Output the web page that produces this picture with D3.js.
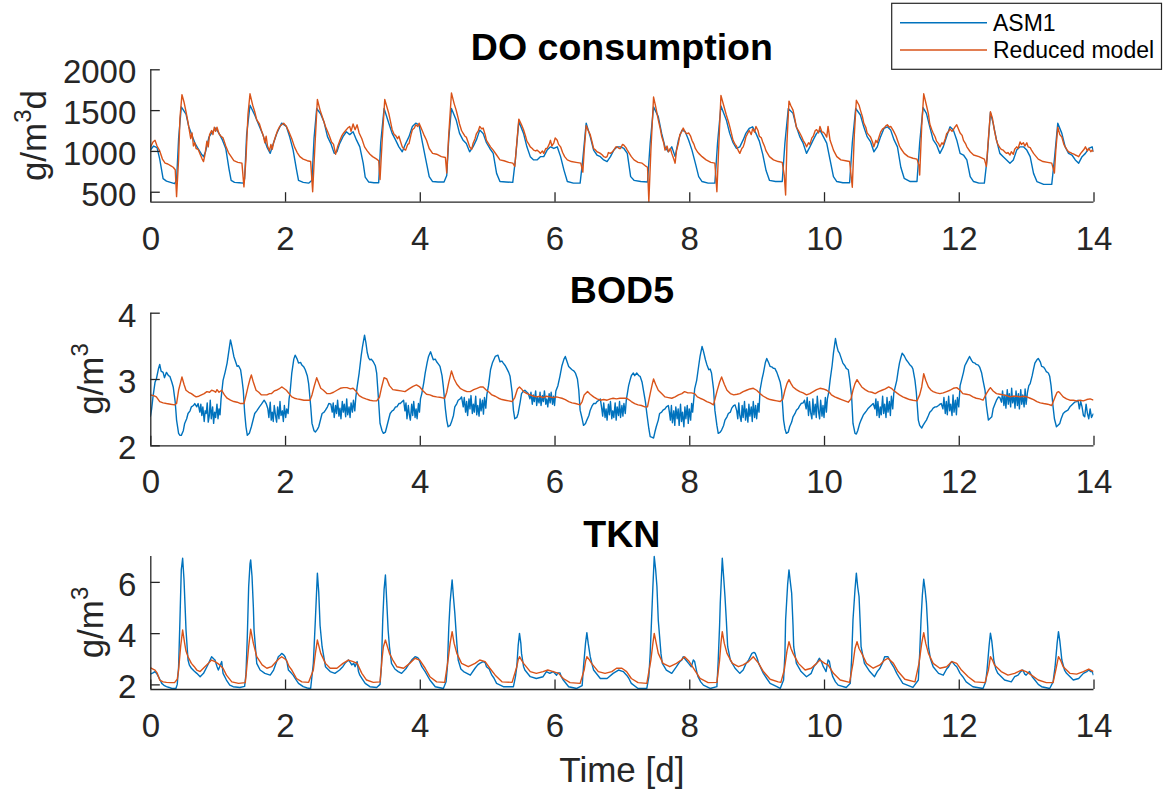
<!DOCTYPE html>
<html>
<head>
<meta charset="utf-8">
<script src="https://cdn.jsdelivr.net/npm/d3@7"></script>
<style>
html,body{margin:0;padding:0;background:#fff;}
svg{display:block;font-family:"Liberation Sans",Arial,Helvetica,sans-serif;}
</style>
</head>
<body>
<svg id="chart" width="1164" height="793"></svg>
<script>
// ---------------- DATA ----------------
const xTicks = [0, 2, 4, 6, 8, 10, 12, 14];
const doTicks = [500, 1000, 1500, 2000];
const bodTicks = [2, 3, 4];
const tknTicks = [2, 4, 6];
const seriesNames = ["ASM1", "Reduced model"];
const panelTitles = ["DO consumption", "BOD5", "TKN"];

const doAsm1 = [[0,1012],[0.05,1060],[0.10,1040],[0.14,900],[0.19,660],[0.24,630],[0.30,615],[0.36,600],[0.39,640],[0.42,1150],[0.46,1540],[0.53,1450],[0.57,1300],[0.61,1210],[0.66,1100],[0.70,1040],[0.73,1000],[0.76,960],[0.79,930],[0.82,990],[0.87,1170],[0.92,1230],[0.97,1280],
[1.02,1215],[1.07,1135],[1.12,1030],[1.17,770],[1.20,640],[1.25,615],[1.32,610],[1.38,605],[1.40,660],[1.43,1200],[1.48,1560],[1.55,1440],[1.62,1300],[1.67,1200],[1.73,1050],[1.78,970],[1.83,1100],[1.88,1220],[1.95,1340],
[2.02,1300],[2.07,1170],[2.12,1010],[2.17,770],[2.20,640],[2.27,615],[2.35,605],[2.40,640],[2.43,1150],[2.47,1520],[2.53,1450],[2.58,1350],[2.63,1175],[2.68,1090],[2.73,970],[2.77,990],[2.81,1090],[2.86,1175],[2.91,1235],[2.96,1200],
[3.01,1235],[3.06,1135],[3.11,1050],[3.16,850],[3.19,680],[3.24,620],[3.32,610],[3.39,610],[3.42,1100],[3.47,1520],[3.54,1340],[3.59,1215],[3.64,1135],[3.69,1050],[3.74,990],[3.79,1090],[3.84,1175],[3.89,1300],[3.94,1340],[3.99,1320],
[4.04,1100],[4.09,890],[4.14,685],[4.19,625],[4.27,620],[4.36,620],[4.40,700],[4.43,1150],[4.47,1520],[4.54,1380],[4.59,1215],[4.64,1135],[4.69,1090],[4.74,990],[4.79,1050],[4.84,1135],[4.89,1255],[4.94,1215],[4.99,1100],
[5.04,1030],[5.09,970],[5.14,725],[5.19,625],[5.28,620],[5.38,615],[5.42,900],[5.47,1360],[5.54,1215],[5.59,1050],[5.64,930],[5.69,890],[5.74,890],[5.79,930],[5.84,930],[5.89,1010],[5.94,1050],[5.99,1030],
[6.04,1050],[6.09,930],[6.14,765],[6.19,625],[6.28,605],[6.38,605],[6.42,900],[6.47,1340],[6.53,1175],[6.58,1010],[6.63,950],[6.68,930],[6.73,890],[6.78,870],[6.83,930],[6.88,1010],[6.93,1050],[6.98,1050],
[7.03,1030],[7.08,970],[7.13,685],[7.18,640],[7.28,625],[7.38,620],[7.42,1100],[7.47,1540],[7.54,1420],[7.59,1215],[7.64,1050],[7.69,990],[7.74,1050],[7.79,930],[7.84,1135],[7.89,1255],[7.94,1235],[7.99,1135],
[8.04,1010],[8.09,850],[8.14,685],[8.19,625],[8.28,605],[8.38,605],[8.42,1100],[8.47,1550],[8.55,1380],[8.60,1215],[8.65,1100],[8.70,1030],[8.75,1050],[8.80,1135],[8.84,1215],[8.89,1275],[8.94,1295],[8.99,1215],
[9.04,1120],[9.09,960],[9.14,760],[9.19,640],[9.28,625],[9.38,625],[9.42,1100],[9.47,1520],[9.54,1460],[9.59,1295],[9.64,1175],[9.69,1095],[9.74,970],[9.79,1050],[9.84,1135],[9.89,1215],[9.94,1255],[9.99,1175],
[10.04,1095],[10.09,890],[10.14,685],[10.19,625],[10.28,610],[10.38,610],[10.42,1100],[10.47,1520],[10.54,1440],[10.59,1295],[10.64,1175],[10.69,1115],[10.74,990],[10.79,1050],[10.84,1175],[10.89,1275],[10.94,1295],[10.99,1255],
[11.04,1135],[11.09,1050],[11.14,800],[11.19,665],[11.28,625],[11.38,625],[11.42,1100],[11.47,1530],[11.52,1460],[11.57,1295],[11.62,1135],[11.67,1075],[11.72,970],[11.77,1050],[11.82,1175],[11.87,1295],[11.92,1255],[11.97,1135],
[12.02,970],[12.07,950],[12.12,890],[12.17,685],[12.22,625],[12.30,605],[12.38,605],[12.42,900],[12.47,1470],[12.51,1340],[12.56,1135],[12.61,970],[12.66,930],[12.71,890],[12.76,850],[12.81,890],[12.86,1010],[12.91,1050],[12.96,1050],
[13.01,1010],[13.06,930],[13.11,725],[13.16,625],[13.26,590],[13.38,590],[13.42,900],[13.47,1340],[13.53,1215],[13.58,1050],[13.63,970],[13.68,950],[13.73,890],[13.78,850],[13.83,930],[13.88,970],[13.93,1030],[13.98,1050],[14.00,990]];

const doReduced = [[0,1040],[0.04,1110],[0.07,1130],[0.10,1060],[0.14,1000],[0.18,900],[0.22,850],[0.26,840],[0.30,820],[0.34,800],[0.37,770],[0.39,440],[0.42,900],[0.44,1400],[0.47,1690],[0.50,1600],[0.53,1480],[0.56,1350],[0.58,1250],[0.60,1150],[0.62,1220],[0.64,1060],[0.66,1100],[0.68,1030],[0.71,1020],[0.74,960],[0.77,900],[0.79,870],[0.81,950],[0.84,1120],[0.86,1050],[0.88,1200],[0.91,1250],[0.93,1200],[0.95,1290],[0.97,1240],[0.99,1290],
[1.02,1210],[1.05,1180],[1.08,1160],[1.12,1060],[1.16,980],[1.20,930],[1.24,880],[1.30,860],[1.36,850],[1.39,560],[1.42,900],[1.45,1450],[1.48,1700],[1.52,1560],[1.55,1480],[1.58,1380],[1.62,1330],[1.65,1250],[1.68,1180],[1.70,1100],[1.72,1180],[1.74,1060],[1.77,1000],[1.79,1080],[1.81,1020],[1.83,1100],[1.86,1180],[1.89,1250],[1.92,1300],[1.95,1320],[1.98,1340],
[2.02,1300],[2.06,1230],[2.10,1150],[2.14,1050],[2.18,980],[2.22,930],[2.27,900],[2.33,880],[2.38,870],[2.41,500],[2.44,1000],[2.48,1630],[2.52,1500],[2.56,1400],[2.60,1300],[2.63,1240],[2.66,1180],[2.69,1110],[2.72,1080],[2.75,960],[2.78,1050],[2.81,1120],[2.84,1180],[2.87,1220],[2.90,1250],[2.93,1280],[2.96,1300],[2.98,1240],
[3.01,1330],[3.04,1260],[3.07,1320],[3.10,1220],[3.14,1150],[3.18,1050],[3.22,1000],[3.26,960],[3.30,930],[3.36,900],[3.39,880],[3.41,650],[3.44,1100],[3.48,1630],[3.54,1460],[3.59,1260],[3.62,1200],[3.64,1190],[3.67,1150],[3.69,1180],[3.72,1100],[3.74,1050],[3.77,1020],[3.79,1010],[3.82,1080],[3.84,1090],[3.87,1200],[3.89,1260],[3.92,1280],[3.94,1320],[3.97,1300],[3.99,1340],
[4.02,1280],[4.06,1200],[4.10,1130],[4.14,1030],[4.19,970],[4.25,960],[4.32,930],[4.38,920],[4.40,730],[4.43,1200],[4.47,1710],[4.51,1580],[4.54,1500],[4.57,1400],[4.59,1330],[4.62,1250],[4.64,1220],[4.67,1180],[4.69,1170],[4.72,1100],[4.74,1050],[4.77,1020],[4.79,1090],[4.82,1150],[4.84,1210],[4.87,1250],[4.89,1300],[4.92,1270],[4.94,1280],[4.97,1200],[4.99,1130],
[5.02,1090],[5.05,1050],[5.09,1010],[5.14,950],[5.19,890],[5.25,880],[5.32,860],[5.38,850],[5.41,810],[5.44,1100],[5.47,1390],[5.51,1320],[5.54,1260],[5.57,1180],[5.59,1120],[5.62,1080],[5.64,1050],[5.67,1030],[5.69,1010],[5.72,1000],[5.74,1010],[5.77,990],[5.79,970],[5.82,1000],[5.84,970],[5.87,1030],[5.89,1030],[5.92,1080],[5.94,1130],[5.96,1060],[5.99,1100],
[6.01,1160],[6.04,1130],[6.06,1080],[6.09,1050],[6.12,980],[6.15,930],[6.19,890],[6.25,870],[6.32,860],[6.39,850],[6.42,740],[6.44,1000],[6.47,1310],[6.50,1250],[6.53,1200],[6.56,1100],[6.58,1030],[6.61,1010],[6.63,990],[6.66,980],[6.68,970],[6.71,950],[6.73,930],[6.76,920],[6.78,930],[6.80,980],[6.83,970],[6.86,990],[6.88,1010],[6.91,1050],[6.93,1050],[6.96,1030],[6.98,1030],
[7.01,1080],[7.03,1070],[7.06,1040],[7.08,1010],[7.11,970],[7.14,930],[7.18,890],[7.24,860],[7.30,850],[7.36,810],[7.38,800],[7.40,380],[7.43,1000],[7.47,1660],[7.50,1550],[7.54,1380],[7.57,1270],[7.59,1180],[7.62,1100],[7.64,1010],[7.67,1060],[7.69,990],[7.72,1030],[7.74,970],[7.77,900],[7.79,850],[7.81,1000],[7.84,1100],[7.86,1200],[7.89,1240],[7.91,1280],[7.94,1230],[7.96,1210],[7.99,1220],
[8.02,1180],[8.04,1130],[8.07,1080],[8.09,1030],[8.12,990],[8.14,970],[8.19,930],[8.25,890],[8.32,860],[8.38,850],[8.41,500],[8.44,1100],[8.47,1680],[8.51,1560],[8.55,1440],[8.58,1360],[8.60,1300],[8.63,1200],[8.65,1130],[8.68,1080],[8.70,1060],[8.73,1000],[8.75,970],[8.78,1030],[8.80,1050],[8.82,1100],[8.84,1170],[8.87,1220],[8.89,1250],[8.92,1200],[8.94,1270],[8.97,1230],[8.99,1300],
[9.02,1250],[9.04,1180],[9.07,1160],[9.09,1110],[9.12,1050],[9.14,1000],[9.19,930],[9.25,890],[9.32,870],[9.38,860],[9.41,700],[9.43,460],[9.45,1100],[9.48,1610],[9.51,1550],[9.54,1500],[9.57,1380],[9.59,1290],[9.62,1250],[9.64,1220],[9.67,1170],[9.69,1130],[9.72,1090],[9.74,1050],[9.77,1100],[9.79,1080],[9.82,1160],[9.84,1180],[9.87,1250],[9.89,1260],[9.92,1220],[9.94,1300],[9.97,1230],[9.99,1230],
[10.02,1200],[10.04,1170],[10.06,1300],[10.09,1130],[10.12,1060],[10.14,1010],[10.19,930],[10.25,890],[10.32,880],[10.38,870],[10.42,555],[10.45,1200],[10.48,1620],[10.52,1560],[10.54,1500],[10.57,1420],[10.59,1340],[10.62,1290],[10.64,1220],[10.67,1190],[10.69,1170],[10.72,1110],[10.74,1050],[10.77,1130],[10.79,1100],[10.82,1180],[10.84,1230],[10.87,1270],[10.89,1280],[10.92,1310],[10.94,1320],[10.97,1290],[10.99,1300],
[11.02,1260],[11.04,1230],[11.07,1180],[11.09,1130],[11.12,1060],[11.14,1030],[11.19,970],[11.25,930],[11.32,910],[11.38,900],[11.41,820],[11.42,705],[11.45,1300],[11.48,1700],[11.52,1560],[11.55,1450],[11.57,1330],[11.60,1260],[11.62,1220],[11.65,1170],[11.67,1120],[11.70,1090],[11.72,1050],[11.75,1100],[11.77,1080],[11.80,1150],[11.82,1210],[11.85,1240],[11.87,1270],[11.90,1240],[11.92,1260],[11.95,1300],[11.97,1320],
[12.00,1260],[12.02,1220],[12.05,1190],[12.07,1130],[12.10,1090],[12.12,1050],[12.17,990],[12.22,950],[12.30,930],[12.38,900],[12.41,810],[12.44,1150],[12.47,1480],[12.50,1400],[12.53,1250],[12.56,1130],[12.58,1080],[12.61,1040],[12.63,1020],[12.66,1010],[12.68,990],[12.71,970],[12.73,980],[12.76,950],[12.78,990],[12.81,960],[12.83,1020],[12.86,1050],[12.88,1030],[12.91,1110],[12.93,1080],[12.96,1100],[12.98,1060],
[13.01,1100],[13.03,1050],[13.06,1040],[13.08,1010],[13.11,970],[13.14,940],[13.18,900],[13.25,870],[13.32,860],[13.38,850],[13.42,730],[13.44,1000],[13.47,1290],[13.50,1200],[13.53,1170],[13.56,1080],[13.58,1050],[13.61,1010],[13.63,990],[13.66,980],[13.68,970],[13.71,960],[13.73,950],[13.76,940],[13.78,930],[13.81,970],[13.83,990],[13.86,1020],[13.88,1050],[13.91,1000],[13.93,1030],[13.96,990],[13.98,1010],[14.00,990]];

const bodAsm1 = [[0,2.43],[0.02,2.55],[0.04,2.73],[0.07,2.95],[0.09,3.0],[0.12,3.15],[0.14,3.22],[0.16,3.12],[0.19,3.1],[0.21,3.02],[0.24,3.1],[0.27,3.05],[0.29,3.04],[0.32,2.95],[0.34,2.88],[0.37,2.65],[0.39,2.38],[0.42,2.18],[0.44,2.15],[0.46,2.15],[0.49,2.22],[0.51,2.33],[0.54,2.4],[0.56,2.48],[0.59,2.52],[0.61,2.58],[0.64,2.6],[0.66,2.63],[0.69,2.58],[0.71,2.63],
[0.735,2.5],[0.75,2.62],[0.765,2.45],[0.78,2.58],[0.80,2.36],[0.815,2.52],[0.83,2.48],[0.845,2.64],[0.86,2.35],[0.875,2.44],[0.89,2.68],[0.905,2.4],[0.925,2.58],[0.94,2.33],[0.955,2.5],[0.97,2.42],[0.99,2.62],[1.005,2.4],[1.02,2.55],[1.035,2.46],[1.05,2.7],
[1.08,2.98],[1.11,3.1],[1.14,3.24],[1.17,3.45],[1.19,3.59],[1.21,3.5],[1.24,3.34],[1.27,3.25],[1.29,3.19],[1.31,3.2],[1.34,3.14],[1.36,3.0],[1.38,2.83],[1.40,2.5],[1.42,2.28],[1.44,2.15],[1.47,2.18],[1.50,2.28],[1.53,2.4],[1.55,2.48],[1.58,2.52],[1.62,2.58],[1.65,2.62],[1.69,2.68],[1.72,2.63],
[1.745,2.55],[1.76,2.42],[1.78,2.65],[1.795,2.38],[1.81,2.5],[1.825,2.36],[1.84,2.6],[1.86,2.44],[1.875,2.35],[1.89,2.58],[1.91,2.4],[1.925,2.66],[1.94,2.45],[1.96,2.52],[1.975,2.36],[1.99,2.6],[2.01,2.42],[2.025,2.55],[2.045,2.48],[2.06,2.7],
[2.075,2.8],[2.10,3.09],[2.13,3.3],[2.15,3.36],[2.18,3.3],[2.20,3.24],[2.23,3.25],[2.25,3.21],[2.28,3.18],[2.30,3.14],[2.33,3.05],[2.35,2.93],[2.38,2.6],[2.40,2.33],[2.43,2.22],[2.45,2.2],[2.48,2.24],[2.50,2.28],[2.53,2.4],[2.55,2.48],[2.58,2.5],[2.60,2.53],[2.63,2.58],[2.65,2.63],[2.68,2.62],
[2.70,2.5],[2.715,2.64],[2.73,2.42],[2.75,2.6],[2.765,2.48],[2.78,2.68],[2.80,2.44],[2.815,2.56],[2.83,2.4],[2.85,2.66],[2.865,2.5],[2.88,2.62],[2.90,2.43],[2.915,2.7],[2.93,2.46],[2.95,2.58],[2.965,2.42],[2.98,2.64],[3.00,2.5],[3.015,2.68],[3.035,2.52],[3.05,2.72],
[3.07,2.88],[3.10,3.09],[3.13,3.35],[3.15,3.49],[3.18,3.66],[3.20,3.55],[3.22,3.4],[3.24,3.32],[3.26,3.29],[3.28,3.3],[3.31,3.26],[3.34,3.2],[3.36,3.09],[3.38,2.8],[3.41,2.33],[3.44,2.22],[3.46,2.18],[3.49,2.2],[3.51,2.28],[3.54,2.4],[3.56,2.48],[3.59,2.52],[3.61,2.53],[3.64,2.58],[3.66,2.58],[3.69,2.63],[3.71,2.63],[3.74,2.66],[3.76,2.68],
[3.78,2.52],[3.795,2.64],[3.81,2.4],[3.83,2.6],[3.845,2.46],[3.86,2.38],[3.88,2.62],[3.895,2.45],[3.91,2.66],[3.93,2.42],[3.945,2.55],[3.96,2.4],[3.98,2.63],[3.995,2.5],[4.01,2.7],
[4.03,2.78],[4.06,2.95],[4.08,3.09],[4.11,3.25],[4.13,3.34],[4.16,3.41],[4.18,3.35],[4.20,3.29],[4.23,3.3],[4.25,3.26],[4.28,3.22],[4.30,3.19],[4.33,3.05],[4.35,2.88],[4.38,2.55],[4.40,2.38],[4.42,2.28],[4.45,2.3],[4.47,2.35],[4.50,2.45],[4.52,2.58],[4.55,2.63],[4.57,2.68],[4.60,2.7],[4.62,2.73],
[4.645,2.58],[4.66,2.72],[4.68,2.5],[4.695,2.66],[4.71,2.45],[4.73,2.7],[4.745,2.55],[4.76,2.75],[4.78,2.48],[4.795,2.62],[4.81,2.5],[4.83,2.74],[4.845,2.46],[4.86,2.6],[4.88,2.44],[4.895,2.7],[4.91,2.52],[4.93,2.68],[4.945,2.47],[4.96,2.72],[4.98,2.56],[4.995,2.76],
[5.02,2.9],[5.05,3.14],[5.08,3.25],[5.12,3.34],[5.16,3.36],[5.19,3.26],[5.22,3.27],[5.24,3.24],[5.27,3.2],[5.29,3.16],[5.32,3.1],[5.34,3.04],[5.37,2.8],[5.39,2.53],[5.41,2.4],[5.44,2.42],[5.46,2.48],[5.49,2.65],[5.51,2.78],[5.54,2.82],[5.56,2.83],[5.59,2.8],[5.61,2.78],
[5.635,2.7],[5.65,2.8],[5.67,2.62],[5.685,2.76],[5.70,2.66],[5.72,2.82],[5.735,2.6],[5.75,2.72],[5.77,2.64],[5.785,2.8],[5.80,2.6],[5.82,2.75],[5.835,2.66],[5.85,2.82],[5.87,2.62],[5.885,2.7],[5.90,2.58],[5.92,2.78],[5.935,2.64],[5.95,2.8],[5.97,2.62],[5.985,2.74],[6.00,2.6],[6.02,2.82],
[6.05,2.9],[6.08,3.04],[6.11,3.2],[6.14,3.3],[6.16,3.34],[6.19,3.25],[6.21,3.19],[6.24,3.16],[6.26,3.14],[6.29,3.12],[6.31,3.09],[6.34,3.0],[6.36,2.83],[6.38,2.53],[6.41,2.4],[6.43,2.3],[6.46,2.33],[6.48,2.38],[6.51,2.45],[6.53,2.53],[6.56,2.6],[6.58,2.63],[6.61,2.63],[6.63,2.66],[6.66,2.68],[6.68,2.7],
[6.70,2.56],[6.715,2.44],[6.73,2.64],[6.75,2.42],[6.765,2.55],[6.78,2.38],[6.80,2.62],[6.815,2.46],[6.83,2.66],[6.85,2.4],[6.865,2.52],[6.88,2.42],[6.90,2.64],[6.915,2.38],[6.93,2.58],[6.95,2.45],[6.965,2.66],[6.98,2.42],[7.00,2.6],[7.015,2.44],[7.03,2.63],[7.05,2.48],[7.065,2.68],
[7.10,2.9],[7.12,2.98],[7.14,3.05],[7.17,3.09],[7.19,3.05],[7.22,3.09],[7.25,3.05],[7.27,3.04],[7.30,2.95],[7.32,2.83],[7.35,2.65],[7.37,2.48],[7.40,2.25],[7.42,2.13],[7.45,2.12],[7.47,2.11],[7.49,2.2],[7.51,2.28],[7.54,2.38],[7.56,2.48],[7.59,2.5],[7.61,2.53],[7.64,2.55],[7.66,2.58],[7.69,2.6],
[7.705,2.5],[7.72,2.38],[7.735,2.6],[7.75,2.34],[7.77,2.52],[7.785,2.3],[7.80,2.58],[7.82,2.4],[7.835,2.55],[7.85,2.3],[7.87,2.62],[7.885,2.36],[7.90,2.5],[7.92,2.28],[7.935,2.58],[7.95,2.4],[7.97,2.6],[7.985,2.33],[8.00,2.55],[8.02,2.38],[8.035,2.63],[8.05,2.5],
[8.08,2.85],[8.11,2.98],[8.14,3.2],[8.16,3.34],[8.19,3.49],[8.21,3.42],[8.24,3.29],[8.26,3.22],[8.29,3.14],[8.31,3.15],[8.33,3.09],[8.36,2.85],[8.38,2.53],[8.41,2.3],[8.43,2.18],[8.46,2.2],[8.48,2.23],[8.51,2.3],[8.53,2.38],[8.56,2.43],[8.58,2.48],[8.61,2.5],[8.63,2.56],[8.66,2.6],[8.68,2.61],
[8.705,2.52],[8.72,2.4],[8.735,2.64],[8.75,2.45],[8.77,2.36],[8.785,2.6],[8.80,2.42],[8.82,2.66],[8.835,2.38],[8.85,2.55],[8.87,2.35],[8.885,2.62],[8.90,2.44],[8.92,2.58],[8.935,2.36],[8.95,2.66],[8.97,2.42],[8.985,2.6],[9.00,2.4],[9.02,2.63],[9.035,2.5],
[9.05,2.83],[9.08,3.0],[9.10,3.09],[9.13,3.25],[9.15,3.31],[9.18,3.24],[9.20,3.19],[9.23,3.18],[9.25,3.16],[9.27,3.16],[9.30,3.1],[9.32,3.04],[9.35,2.95],[9.37,2.83],[9.40,2.38],[9.42,2.25],[9.44,2.18],[9.47,2.2],[9.49,2.28],[9.52,2.35],[9.54,2.43],[9.57,2.48],[9.59,2.53],[9.62,2.56],[9.64,2.6],[9.66,2.63],[9.69,2.64],[9.71,2.68],
[9.735,2.55],[9.75,2.72],[9.77,2.45],[9.785,2.66],[9.80,2.5],[9.82,2.4],[9.835,2.7],[9.85,2.46],[9.87,2.62],[9.885,2.42],[9.90,2.74],[9.92,2.5],[9.935,2.4],[9.95,2.68],[9.97,2.44],[9.985,2.6],[10.00,2.42],[10.02,2.72],[10.035,2.5],[10.05,2.7],
[10.07,2.8],[10.09,2.98],[10.12,3.2],[10.14,3.39],[10.17,3.61],[10.19,3.5],[10.21,3.42],[10.23,3.39],[10.26,3.3],[10.28,3.24],[10.31,3.2],[10.33,3.16],[10.36,3.14],[10.38,3.0],[10.41,2.73],[10.43,2.33],[10.46,2.18],[10.48,2.17],[10.50,2.22],[10.53,2.33],[10.55,2.38],[10.58,2.45],[10.60,2.48],[10.63,2.52],[10.65,2.55],[10.68,2.58],[10.70,2.6],[10.73,2.63],
[10.755,2.55],[10.77,2.7],[10.785,2.45],[10.80,2.66],[10.82,2.42],[10.835,2.58],[10.85,2.46],[10.87,2.74],[10.885,2.48],[10.90,2.62],[10.92,2.42],[10.935,2.72],[10.95,2.5],[10.97,2.66],[10.985,2.45],[11.00,2.74],[11.02,2.55],[11.035,2.78],
[11.05,2.85],[11.08,2.98],[11.10,3.12],[11.12,3.24],[11.14,3.32],[11.16,3.39],[11.19,3.35],[11.22,3.29],[11.25,3.25],[11.27,3.22],[11.30,3.19],[11.32,3.15],[11.35,2.98],[11.37,2.8],[11.40,2.38],[11.42,2.3],[11.45,2.26],[11.47,2.3],[11.50,2.35],[11.52,2.38],[11.55,2.45],[11.57,2.5],[11.60,2.53],[11.62,2.56],[11.65,2.58],[11.67,2.58],[11.70,2.6],[11.72,2.62],[11.74,2.63],
[11.765,2.55],[11.78,2.72],[11.80,2.48],[11.815,2.66],[11.83,2.46],[11.85,2.74],[11.865,2.52],[11.88,2.62],[11.90,2.45],[11.915,2.76],[11.93,2.5],[11.95,2.68],[11.965,2.46],[11.98,2.72],[12.00,2.58],
[12.02,2.9],[12.04,2.98],[12.07,3.1],[12.09,3.2],[12.11,3.24],[12.14,3.3],[12.16,3.34],[12.19,3.28],[12.21,3.25],[12.24,3.24],[12.26,3.22],[12.29,3.21],[12.31,3.18],[12.34,3.09],[12.36,2.98],[12.39,2.83],[12.41,2.6],[12.44,2.38],[12.46,2.4],[12.49,2.43],[12.51,2.55],[12.54,2.63],[12.56,2.68],[12.59,2.73],[12.61,2.72],
[12.635,2.65],[12.65,2.82],[12.67,2.6],[12.685,2.76],[12.70,2.56],[12.72,2.84],[12.735,2.62],[12.75,2.78],[12.77,2.58],[12.785,2.86],[12.80,2.64],[12.82,2.74],[12.835,2.56],[12.85,2.82],[12.87,2.6],[12.885,2.78],[12.90,2.55],[12.92,2.84],[12.935,2.62],[12.95,2.76],[12.97,2.58],[12.985,2.85],[13.00,2.62],[13.02,2.8],
[13.04,2.9],[13.06,2.93],[13.09,3.05],[13.11,3.15],[13.13,3.24],[13.16,3.29],[13.18,3.31],[13.21,3.26],[13.23,3.19],[13.26,3.18],[13.28,3.15],[13.30,3.11],[13.33,3.09],[13.35,3.04],[13.37,2.9],[13.40,2.58],[13.42,2.4],[13.45,2.28],[13.47,2.3],[13.50,2.33],[13.52,2.4],[13.55,2.48],[13.57,2.5],[13.60,2.52],[13.62,2.53],[13.65,2.58],[13.67,2.6],[13.70,2.63],[13.72,2.65],[13.75,2.66],[13.77,2.68],
[13.79,2.55],[13.81,2.66],[13.83,2.58],[13.85,2.45],[13.87,2.43],[13.89,2.62],[13.91,2.48],[13.93,2.4],[13.95,2.55],[13.97,2.42],[14.00,2.48]];

const bodReduced = [[0,2.76],[0.05,2.75],[0.09,2.73],[0.14,2.66],[0.19,2.64],[0.24,2.63],[0.30,2.62],[0.36,2.61],[0.39,2.63],[0.42,2.83],[0.45,2.95],[0.47,3.03],[0.50,2.92],[0.53,2.83],[0.57,2.8],[0.61,2.78],[0.65,2.75],[0.68,2.73],[0.72,2.74],[0.76,2.76],[0.80,2.78],[0.84,2.81],[0.88,2.8],[0.91,2.83],[0.94,2.82],[0.97,2.8],[0.99,2.84],
[1.02,2.8],[1.06,2.83],[1.10,2.76],[1.14,2.71],[1.19,2.68],[1.24,2.66],[1.29,2.65],[1.34,2.63],[1.39,2.63],[1.42,2.75],[1.45,2.88],[1.48,3.0],[1.50,3.06],[1.53,2.95],[1.57,2.83],[1.61,2.8],[1.65,2.76],[1.69,2.76],[1.73,2.76],[1.77,2.78],[1.80,2.78],[1.84,2.82],[1.87,2.83],[1.91,2.85],[1.95,2.88],[1.98,2.86],
[2.02,2.83],[2.06,2.78],[2.10,2.73],[2.14,2.71],[2.18,2.7],[2.23,2.69],[2.28,2.68],[2.33,2.68],[2.37,2.68],[2.40,2.76],[2.43,2.88],[2.47,3.02],[2.50,2.94],[2.53,2.86],[2.57,2.83],[2.62,2.78],[2.67,2.78],[2.72,2.8],[2.77,2.83],[2.82,2.86],[2.87,2.87],[2.92,2.87],[2.97,2.85],
[3.01,2.86],[3.05,2.82],[3.10,2.75],[3.15,2.72],[3.20,2.7],[3.26,2.68],[3.31,2.67],[3.36,2.67],[3.40,2.72],[3.43,2.86],[3.47,3.02],[3.51,3.0],[3.55,2.9],[3.60,2.84],[3.66,2.83],[3.72,2.82],[3.78,2.81],[3.84,2.85],[3.90,2.89],[3.95,2.91],
[4.00,2.88],[4.05,2.82],[4.10,2.77],[4.15,2.76],[4.20,2.74],[4.25,2.73],[4.32,2.72],[4.37,2.71],[4.40,2.8],[4.43,2.95],[4.47,3.12],[4.51,3.0],[4.55,2.92],[4.60,2.86],[4.65,2.83],[4.70,2.81],[4.75,2.81],[4.80,2.84],[4.85,2.86],[4.90,2.88],[4.94,2.88],[4.99,2.83],
[5.03,2.8],[5.07,2.76],[5.12,2.74],[5.17,2.71],[5.22,2.69],[5.27,2.68],[5.32,2.67],[5.37,2.66],[5.41,2.72],[5.45,2.85],[5.48,2.88],[5.51,2.85],[5.54,2.81],[5.59,2.78],[5.64,2.76],[5.69,2.74],[5.73,2.73],[5.78,2.74],[5.83,2.72],[5.88,2.74],[5.93,2.73],[5.98,2.72],
[6.03,2.73],[6.07,2.72],[6.11,2.71],[6.16,2.69],[6.21,2.66],[6.26,2.64],[6.31,2.63],[6.38,2.61],[6.41,2.66],[6.44,2.76],[6.49,2.81],[6.53,2.77],[6.58,2.73],[6.63,2.7],[6.68,2.68],[6.73,2.69],[6.78,2.68],[6.83,2.7],[6.87,2.71],[6.92,2.7],[6.97,2.71],
[7.02,2.71],[7.07,2.71],[7.10,2.69],[7.14,2.66],[7.19,2.63],[7.24,2.61],[7.29,2.6],[7.34,2.58],[7.38,2.58],[7.42,2.78],[7.45,2.92],[7.47,3.0],[7.50,2.92],[7.54,2.83],[7.59,2.78],[7.64,2.73],[7.69,2.72],[7.74,2.71],[7.79,2.73],[7.84,2.76],[7.89,2.78],[7.93,2.81],[7.98,2.79],
[8.03,2.79],[8.08,2.78],[8.12,2.73],[8.16,2.71],[8.21,2.69],[8.26,2.66],[8.31,2.64],[8.36,2.61],[8.41,2.81],[8.45,2.95],[8.48,3.03],[8.52,2.92],[8.56,2.83],[8.61,2.78],[8.66,2.76],[8.71,2.77],[8.75,2.78],[8.80,2.81],[8.85,2.83],[8.90,2.85],[8.95,2.86],
[9.00,2.83],[9.05,2.78],[9.10,2.74],[9.15,2.71],[9.20,2.69],[9.25,2.68],[9.30,2.67],[9.35,2.66],[9.39,2.7],[9.42,2.83],[9.45,2.93],[9.48,2.99],[9.51,2.93],[9.54,2.88],[9.59,2.84],[9.64,2.81],[9.69,2.79],[9.74,2.76],[9.79,2.78],[9.84,2.81],[9.89,2.84],[9.94,2.86],[9.99,2.85],
[10.04,2.83],[10.08,2.8],[10.11,2.76],[10.16,2.73],[10.21,2.71],[10.26,2.69],[10.31,2.67],[10.36,2.65],[10.40,2.7],[10.43,2.83],[10.46,2.93],[10.49,2.99],[10.52,2.94],[10.56,2.88],[10.61,2.84],[10.66,2.81],[10.71,2.8],[10.76,2.78],[10.81,2.81],[10.86,2.83],[10.91,2.85],[10.96,2.88],
[11.00,2.86],[11.03,2.83],[11.08,2.79],[11.12,2.76],[11.17,2.73],[11.22,2.71],[11.27,2.69],[11.32,2.68],[11.38,2.67],[11.42,2.76],[11.45,2.88],[11.48,3.08],[11.51,2.98],[11.55,2.88],[11.59,2.83],[11.62,2.81],[11.67,2.79],[11.72,2.78],[11.77,2.79],[11.82,2.81],[11.87,2.83],[11.92,2.86],[11.97,2.87],
[12.02,2.83],[12.06,2.78],[12.11,2.77],[12.16,2.76],[12.21,2.73],[12.26,2.71],[12.31,2.7],[12.36,2.68],[12.41,2.78],[12.44,2.83],[12.47,2.87],[12.51,2.82],[12.56,2.78],[12.61,2.77],[12.66,2.76],[12.71,2.75],[12.76,2.73],[12.81,2.74],[12.86,2.74],[12.91,2.73],[12.96,2.74],
[13.01,2.73],[13.06,2.71],[13.11,2.69],[13.16,2.66],[13.21,2.64],[13.26,2.63],[13.32,2.62],[13.38,2.6],[13.43,2.73],[13.46,2.8],[13.48,2.81],[13.51,2.78],[13.55,2.73],[13.60,2.7],[13.65,2.68],[13.70,2.68],[13.75,2.67],[13.80,2.68],[13.85,2.67],[13.90,2.69],[13.95,2.7],[14.00,2.68]];

const tknAsm1 = [[0,2.4],[0.04,2.45],[0.07,2.5],[0.10,2.4],[0.12,2.3],[0.15,2.15],[0.17,2.04],[0.21,1.95],[0.24,1.91],[0.28,1.88],[0.32,1.84],[0.38,1.84],[0.40,2.0],[0.42,2.69],[0.44,4.5],[0.46,6.47],[0.48,6.92],[0.50,6.1],[0.52,4.8],[0.53,4.12],[0.56,2.95],[0.58,2.75],[0.61,2.63],[0.65,2.52],[0.69,2.43],[0.74,2.3],[0.79,2.43],[0.84,2.69],[0.87,2.85],[0.91,3.08],[0.94,3.0],[0.96,2.95],[0.99,2.7],
[1.01,2.56],[1.03,2.69],[1.06,2.89],[1.08,2.43],[1.13,2.17],[1.18,1.97],[1.23,1.91],[1.33,1.88],[1.40,1.92],[1.42,2.4],[1.44,3.86],[1.46,5.8],[1.48,6.7],[1.49,6.86],[1.51,6.21],[1.53,5.0],[1.54,4.12],[1.58,2.82],[1.63,2.56],[1.70,2.43],[1.78,2.36],[1.83,2.56],[1.87,2.85],[1.90,3.08],[1.93,3.15],[1.95,3.21],[1.98,3.15],
[2.00,3.08],[2.03,2.85],[2.05,2.56],[2.09,2.45],[2.12,2.36],[2.16,2.2],[2.20,2.04],[2.27,1.91],[2.33,1.86],[2.38,1.84],[2.42,2.82],[2.45,4.51],[2.48,6.34],[2.50,5.6],[2.52,4.3],[2.55,3.47],[2.60,2.69],[2.67,2.5],[2.74,2.43],[2.81,2.56],[2.86,2.7],[2.89,2.82],[2.94,2.95],[2.97,2.85],[2.99,2.76],
[3.02,2.82],[3.04,2.69],[3.07,2.89],[3.09,2.5],[3.11,2.36],[3.15,2.2],[3.19,2.04],[3.26,1.91],[3.36,1.88],[3.41,2.0],[3.43,2.69],[3.45,4.5],[3.47,5.7],[3.49,6.27],[3.51,5.2],[3.53,4.12],[3.55,3.47],[3.58,2.82],[3.63,2.6],[3.68,2.5],[3.73,2.43],[3.80,2.63],[3.84,2.8],[3.88,2.95],[3.93,3.08],[3.96,3.05],[3.98,3.02],
[4.03,2.69],[4.08,2.5],[4.15,2.17],[4.23,1.91],[4.35,1.84],[4.39,2.1],[4.41,2.69],[4.43,4.2],[4.45,5.2],[4.48,6.08],[4.50,5.4],[4.52,4.78],[4.55,3.6],[4.57,2.95],[4.61,2.6],[4.65,2.5],[4.75,2.36],[4.82,2.63],[4.86,2.76],[4.89,2.82],[4.94,2.89],[4.97,2.85],[4.99,2.69],
[5.03,2.6],[5.07,2.36],[5.10,2.25],[5.14,2.04],[5.24,1.91],[5.39,1.91],[5.42,2.3],[5.44,2.69],[5.46,3.5],[5.48,3.99],[5.50,3.6],[5.51,3.21],[5.54,2.7],[5.56,2.56],[5.64,2.3],[5.73,2.23],[5.83,2.3],[5.88,2.5],[5.93,2.43],[5.98,2.5],
[6.03,2.36],[6.05,2.45],[6.08,2.45],[6.10,2.3],[6.13,2.17],[6.21,1.91],[6.33,1.84],[6.41,1.95],[6.43,2.69],[6.46,3.6],[6.48,4.02],[6.50,3.6],[6.53,3.08],[6.56,2.75],[6.58,2.56],[6.68,2.23],[6.78,2.23],[6.87,2.43],[6.95,2.56],
[7.02,2.5],[7.07,2.36],[7.10,2.25],[7.14,2.04],[7.24,1.84],[7.37,1.84],[7.40,2.3],[7.42,3.21],[7.44,4.5],[7.46,5.82],[7.48,6.99],[7.50,6.5],[7.52,5.82],[7.54,4.5],[7.56,3.86],[7.58,3.2],[7.60,2.82],[7.66,2.56],[7.74,2.43],[7.81,2.69],[7.86,2.89],[7.89,2.95],[7.91,3.08],[7.95,2.95],[7.99,2.82],
[8.03,2.69],[8.06,2.95],[8.08,2.89],[8.11,2.5],[8.13,2.3],[8.17,2.1],[8.21,1.97],[8.31,1.84],[8.41,1.91],[8.43,2.95],[8.45,4.3],[8.46,5.17],[8.49,6.92],[8.51,6.2],[8.53,5.43],[8.55,4.5],[8.57,3.47],[8.61,2.95],[8.68,2.63],[8.75,2.43],[8.80,2.56],[8.84,2.8],[8.88,2.95],[8.93,3.21],[8.96,3.25],[8.98,3.21],
[9.01,3.0],[9.03,2.82],[9.06,2.65],[9.10,2.43],[9.15,2.23],[9.20,2.04],[9.30,1.91],[9.35,1.84],[9.40,2.17],[9.42,3.2],[9.43,4.51],[9.46,5.9],[9.48,6.47],[9.50,6.0],[9.52,5.55],[9.54,4.3],[9.55,3.47],[9.59,2.82],[9.66,2.5],[9.74,2.3],[9.81,2.43],[9.85,2.7],[9.89,2.82],[9.93,3.02],[9.96,2.9],[9.99,2.69],
[10.01,2.6],[10.03,2.5],[10.06,2.95],[10.08,2.89],[10.10,2.6],[10.13,2.3],[10.17,2.1],[10.21,1.97],[10.33,1.88],[10.39,2.04],[10.41,3.0],[10.43,4.51],[10.46,5.7],[10.48,6.34],[10.50,5.8],[10.52,5.43],[10.54,4.2],[10.55,3.47],[10.60,2.82],[10.68,2.5],[10.75,2.3],[10.79,2.5],[10.83,2.63],[10.87,2.85],[10.90,3.08],[10.95,3.08],
[11.00,2.82],[11.04,2.65],[11.08,2.43],[11.12,2.25],[11.17,2.04],[11.32,1.88],[11.40,2.17],[11.42,3.2],[11.44,4.51],[11.46,5.5],[11.48,6.1],[11.50,5.7],[11.52,5.17],[11.54,4.2],[11.55,3.47],[11.58,3.0],[11.62,2.69],[11.70,2.43],[11.77,2.36],[11.82,2.6],[11.85,2.69],[11.88,2.85],[11.90,2.89],[11.94,2.76],[11.97,2.69],
[12.02,2.43],[12.06,2.3],[12.11,2.1],[12.21,1.91],[12.36,1.84],[12.40,2.1],[12.42,2.56],[12.45,3.5],[12.47,4.0],[12.49,3.7],[12.52,2.95],[12.55,2.6],[12.58,2.43],[12.68,2.17],[12.78,2.1],[12.83,2.3],[12.88,2.36],[12.92,2.5],[12.95,2.56],[12.98,2.4],
[13.00,2.36],[13.03,2.45],[13.05,2.5],[13.09,2.3],[13.13,2.17],[13.18,2.0],[13.23,1.91],[13.35,1.84],[13.40,2.1],[13.43,2.69],[13.46,3.6],[13.48,4.06],[13.50,3.7],[13.53,2.95],[13.57,2.56],[13.60,2.43],[13.70,2.17],[13.78,2.23],[13.85,2.43],[13.90,2.5],[13.93,2.56],[13.96,2.5],[13.98,2.5],[14.00,2.36]];

const tknReduced = [[0,2.65],[0.04,2.6],[0.07,2.56],[0.10,2.45],[0.14,2.17],[0.19,2.1],[0.24,2.08],[0.30,2.07],[0.36,2.07],[0.40,2.2],[0.42,2.56],[0.45,3.47],[0.48,4.12],[0.51,3.6],[0.53,3.3],[0.56,3.08],[0.61,2.82],[0.65,2.7],[0.69,2.56],[0.74,2.5],[0.81,2.69],[0.86,2.82],[0.91,2.95],[0.96,2.89],
[1.00,2.82],[1.03,2.76],[1.08,2.63],[1.13,2.36],[1.21,2.1],[1.31,2.04],[1.41,2.07],[1.43,2.6],[1.46,3.47],[1.49,4.15],[1.53,3.6],[1.58,3.08],[1.66,2.76],[1.73,2.63],[1.80,2.69],[1.87,2.89],[1.91,3.0],[1.95,3.08],
[2.02,2.95],[2.06,2.7],[2.10,2.56],[2.17,2.23],[2.25,2.1],[2.35,2.08],[2.42,2.56],[2.45,3.2],[2.48,3.73],[2.53,3.21],[2.60,2.82],[2.67,2.63],[2.77,2.63],[2.86,2.82],[2.94,2.95],
[3.01,2.89],[3.07,2.82],[3.14,2.43],[3.21,2.17],[3.31,2.08],[3.41,2.1],[3.44,3.0],[3.46,3.47],[3.49,3.73],[3.55,3.21],[3.60,2.95],[3.66,2.69],[3.76,2.63],[3.85,2.82],[3.93,3.02],
[4.00,2.95],[4.08,2.63],[4.15,2.3],[4.25,2.1],[4.37,2.08],[4.42,2.95],[4.45,3.6],[4.48,4.06],[4.51,3.6],[4.55,3.21],[4.62,2.82],[4.72,2.69],[4.82,2.82],[4.89,2.95],[4.97,2.89],
[5.04,2.63],[5.12,2.36],[5.22,2.1],[5.37,2.08],[5.44,2.69],[5.46,2.95],[5.48,3.08],[5.51,2.95],[5.54,2.82],[5.64,2.5],[5.73,2.43],[5.83,2.5],[5.90,2.56],[5.98,2.5],
[6.06,2.43],[6.13,2.23],[6.23,2.07],[6.38,2.04],[6.44,2.56],[6.46,2.9],[6.48,3.08],[6.52,2.95],[6.55,2.82],[6.65,2.5],[6.75,2.43],[6.85,2.5],[6.92,2.63],
[7.00,2.63],[7.07,2.5],[7.14,2.23],[7.24,2.07],[7.37,2.04],[7.43,2.95],[7.46,3.6],[7.48,3.99],[7.51,3.6],[7.54,3.21],[7.61,2.82],[7.71,2.69],[7.81,2.82],[7.88,2.95],[7.93,3.08],
[8.00,2.89],[8.08,2.56],[8.16,2.23],[8.28,2.07],[8.41,2.08],[8.45,2.95],[8.47,3.6],[8.49,4.06],[8.52,3.6],[8.56,3.21],[8.64,2.82],[8.73,2.69],[8.80,2.76],[8.88,2.89],[8.95,3.08],
[9.03,2.82],[9.10,2.5],[9.20,2.2],[9.32,2.1],[9.36,2.08],[9.41,2.56],[9.45,3.3],[9.48,3.67],[9.51,3.4],[9.54,3.21],[9.62,2.82],[9.72,2.56],[9.81,2.63],[9.89,2.82],[9.94,2.95],
[10.01,2.82],[10.06,2.76],[10.14,2.43],[10.24,2.17],[10.38,2.08],[10.43,2.82],[10.46,3.4],[10.49,3.67],[10.52,3.4],[10.56,3.21],[10.63,2.82],[10.73,2.63],[10.83,2.76],[10.90,2.95],[10.95,3.02],
[11.03,2.82],[11.10,2.5],[11.20,2.2],[11.35,2.1],[11.41,2.82],[11.45,3.6],[11.48,4.02],[11.51,3.6],[11.55,3.21],[11.62,2.82],[11.72,2.63],[11.82,2.69],[11.90,2.89],[11.97,2.82],
[12.04,2.56],[12.14,2.3],[12.24,2.1],[12.39,2.07],[12.44,2.56],[12.47,3.08],[12.50,2.95],[12.53,2.76],[12.63,2.5],[12.73,2.36],[12.83,2.43],[12.93,2.56],
[13.00,2.5],[13.08,2.36],[13.18,2.17],[13.30,2.07],[13.40,2.07],[13.44,2.56],[13.48,3.08],[13.51,2.95],[13.55,2.69],[13.65,2.43],[13.75,2.4],[13.85,2.5],[13.93,2.6],[14.00,2.5]];

// ---------------- LAYOUT ----------------
const W = 1164, H = 793;
const axisColor = "#262626";
const colors = ["#0072BD", "#D95319"];
const plotLeft = 150.3, plotRight = 1093.5;
const tickLen = 9.5;

const panels = [
  {title: panelTitles[0], series: [doAsm1, doReduced], domain: [378, 2000], ticks: doTicks, top: 69.3, bottom: 201.7, ylabel: ["g/m", "3", "d"], ylabelX: 46},
  {title: panelTitles[1], series: [bodAsm1, bodReduced], domain: [2, 4], ticks: bodTicks, top: 312.7, bottom: 445.3, ylabel: ["g/m", "3", ""], ylabelX: 103},
  {title: panelTitles[2], series: [tknAsm1, tknReduced], domain: [1.82, 7.01], ticks: tknTicks, top: 556, bottom: 689, ylabel: ["g/m", "3", ""], ylabelX: 103}
];

const svg = d3.select("#chart");
svg.append("rect").attr("width", W).attr("height", H).attr("fill", "#fff");

const x = d3.scaleLinear().domain([0, 14]).range([plotLeft, plotRight]);

panels.forEach((p, i) => {
  const y = d3.scaleLinear().domain(p.domain).range([p.bottom, p.top]);
  const g = svg.append("g");

  const clipId = "clip" + i;
  svg.append("clipPath").attr("id", clipId)
    .append("rect").attr("x", plotLeft).attr("y", p.top - 1)
    .attr("width", plotRight - plotLeft).attr("height", p.bottom - p.top + 2);

  // lines
  const line = d3.line().x(d => x(d[0])).y(d => y(d[1]));
  p.series.forEach((s, k) => {
    g.append("path").datum(s)
      .attr("d", line)
      .attr("fill", "none")
      .attr("stroke", colors[k])
      .attr("stroke-width", 1.4)
      .attr("stroke-linejoin", "round")
      .attr("clip-path", `url(#${clipId})`);
  });

  // x axis
  const xAxis = d3.axisBottom(x).tickValues(xTicks).tickSize(-tickLen).tickPadding(0).tickFormat(d3.format("d"));
  const gx = g.append("g").attr("transform", `translate(0,${p.bottom})`).call(xAxis);
  gx.select(".domain").attr("d", `M${plotLeft},0.5H${plotRight}`).attr("stroke", axisColor).attr("stroke-width", 1.3);
  gx.selectAll(".tick line").attr("stroke", axisColor).attr("stroke-width", 1.3);
  gx.selectAll(".tick text").attr("y", 48).attr("dy", null)
    .attr("fill", axisColor).attr("font-size", "33px").attr("font-family", "Liberation Sans, Arial, sans-serif");

  // y axis
  const yAxis = d3.axisLeft(y).tickValues(p.ticks).tickSize(-tickLen).tickPadding(0).tickFormat(d3.format("d"));
  const gy = g.append("g").attr("transform", `translate(${plotLeft},0)`).call(yAxis);
  gy.select(".domain").attr("d", `M0.5,${p.top}V${p.bottom}`).attr("stroke", axisColor).attr("stroke-width", 1.3);
  gy.selectAll(".tick line").attr("stroke", axisColor).attr("stroke-width", 1.3);
  gy.selectAll(".tick text").attr("x", -14).attr("dy", null).attr("y", 13.5)
    .attr("text-anchor", "end")
    .attr("fill", axisColor).attr("font-size", "33px").attr("font-family", "Liberation Sans, Arial, sans-serif");

  // title
  g.append("text").attr("x", (plotLeft + plotRight) / 2).attr("y", p.top - 9.5)
    .attr("text-anchor", "middle").attr("font-size", "37.5px").attr("font-weight", "bold")
    .attr("fill", "#000").text(p.title);

  // y label
  const cy = (p.top + p.bottom) / 2;
  const t = g.append("text").attr("transform", `translate(${p.ylabelX},${cy}) rotate(-90)`)
    .attr("text-anchor", "middle").attr("font-size", "35px").attr("fill", axisColor);
  t.append("tspan").text(p.ylabel[0]);
  t.append("tspan").attr("font-size", "24px").attr("dy", -15).text(p.ylabel[1]);
  t.append("tspan").attr("dy", 15).text(p.ylabel[2]);
});

// x label
svg.append("text").attr("x", (plotLeft + plotRight) / 2).attr("y", 781.5)
  .attr("text-anchor", "middle").attr("font-size", "35px").attr("fill", axisColor).text("Time [d]");

// legend
const lg = svg.append("g");
lg.append("rect").attr("x", 891.7).attr("y", 3.3).attr("width", 1161.5 - 891.7).attr("height", 66)
  .attr("fill", "#fff").attr("stroke", axisColor).attr("stroke-width", 1.2);
seriesNames.forEach((name, k) => {
  const ly = [22.7, 50][k];
  lg.append("line").attr("x1", 900).attr("x2", 987).attr("y1", ly).attr("y2", ly)
    .attr("stroke", colors[k]).attr("stroke-width", 1.5);
  lg.append("text").attr("x", 993).attr("y", ly + 8).attr("font-size", "23px")
    .attr("fill", "#000").text(name);
});
</script>
</body>
</html>
